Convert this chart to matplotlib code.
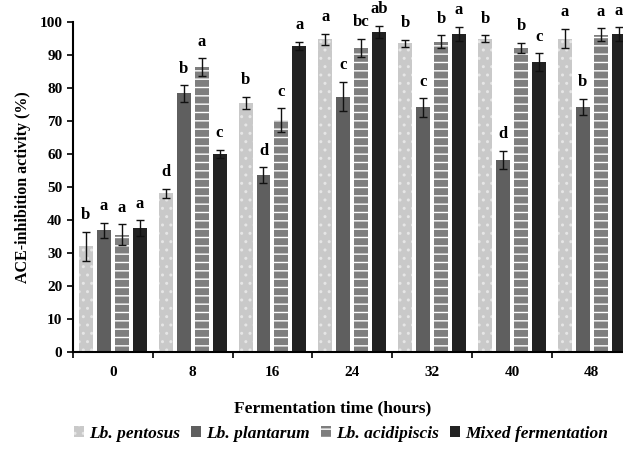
import matplotlib.pyplot as plt
import numpy as np

plt.rcParams['font.family'] = ['Liberation Serif', 'DejaVu Serif']
plt.rcParams['hatch.linewidth'] = 1.0

times = ["0", "8", "16", "24", "32", "40", "48"]
strains = ["Lb. pentosus", "Lb. plantarum", "Lb. acidipiscis", "Mixed fermentation"]

pentosus = [32.0, 48.1, 75.5, 94.8, 93.5, 95.0, 95.0]
pentosus_err = [4.4, 1.4, 1.8, 1.7, 1.2, 1.0, 3.0]
plantarum = [36.8, 78.4, 53.6, 77.4, 74.1, 58.1, 74.3]
plantarum_err = [2.4, 2.5, 2.4, 4.5, 2.8, 2.8, 2.4]
acidipiscis = [35.5, 86.3, 70.3, 92.2, 94.0, 92.2, 96.1]
acidipiscis_err = [3.2, 2.7, 3.5, 2.8, 2.0, 1.5, 2.0]
mixed = [37.5, 60.0, 92.8, 97.1, 96.4, 87.9, 96.4]
mixed_err = [2.4, 1.2, 1.2, 1.8, 2.2, 2.6, 2.0]

letters = [
    ["b", "d", "b", "a", "b", "b", "a"],
    ["a", "b", "d", "c", "c", "d", "b"],
    ["a", "a", "c", "bc", "b", "b", "a"],
    ["a", "c", "a", "ab", "a", "c", "a"],
]

values = [pentosus, plantarum, acidipiscis, mixed]
errors = [pentosus_err, plantarum_err, acidipiscis_err, mixed_err]
colors = ["#c9c9c9", "#5f5f5f", "#7e7e7e", "#222222"]
hatch_colors = ["#e6e6e6", "#5f5f5f", "white", "#222222"]
hatches = ["..", None, "--", None]

fig = plt.figure(figsize=(6.23, 4.69), dpi=100)
ax = fig.add_axes([0.117, 0.25, 0.897, 0.703])

x = np.arange(len(times))
width = 0.175
step = 0.225
for i in range(4):
    pos = x + (i - 1.5) * step
    ax.bar(pos, values[i], width, color=colors[i], edgecolor=hatch_colors[i],
           linewidth=0, hatch=hatches[i], label=strains[i])
    ax.errorbar(pos, values[i], yerr=errors[i], fmt="none",
                ecolor="#111111", elinewidth=1, capsize=3, capthick=1)
    for j in range(len(times)):
        ax.text(pos[j], values[i][j] + errors[i][j] + 5, letters[i][j],
                ha="center", va="center", fontsize=12, fontweight="bold")

ax.set_xlim(-0.5, 6.5)
ax.set_ylim(0, 100)
ax.set_yticks(np.arange(0, 101, 10))
ax.set_xticks(x)
ax.set_xticklabels(times)
ax.set_xticks(np.arange(-0.5, 6.6, 1), minor=True)
ax.tick_params(axis="x", which="major", length=0, pad=10)
ax.tick_params(axis="x", which="minor", length=4, width=1.2, direction="out")
ax.tick_params(axis="y", length=4, width=1.2, direction="out")
for lbl in ax.get_xticklabels() + ax.get_yticklabels():
    lbl.set_fontweight("bold")
    lbl.set_fontsize(11)

ax.spines["top"].set_visible(False)
ax.spines["right"].set_visible(False)
ax.spines["left"].set_linewidth(1.5)
ax.spines["bottom"].set_linewidth(1.5)

ax.set_ylabel("ACE-inhibition activity (%)", fontsize=11.5, fontweight="bold", labelpad=6)
fig.text(333 / 623, 1 - 408 / 469, "Fermentation time (hours)",
         ha="center", va="center", fontsize=12.5, fontweight="bold")

fig.legend(loc="center", bbox_to_anchor=(341 / 623, 1 - 434 / 469), ncol=4,
           frameon=False, handlelength=0.6, handleheight=0.6,
           handletextpad=0.3, columnspacing=0.6,
           prop={"style": "italic", "weight": "bold", "size": 12.5})

fig.savefig("out.png", dpi=100)
